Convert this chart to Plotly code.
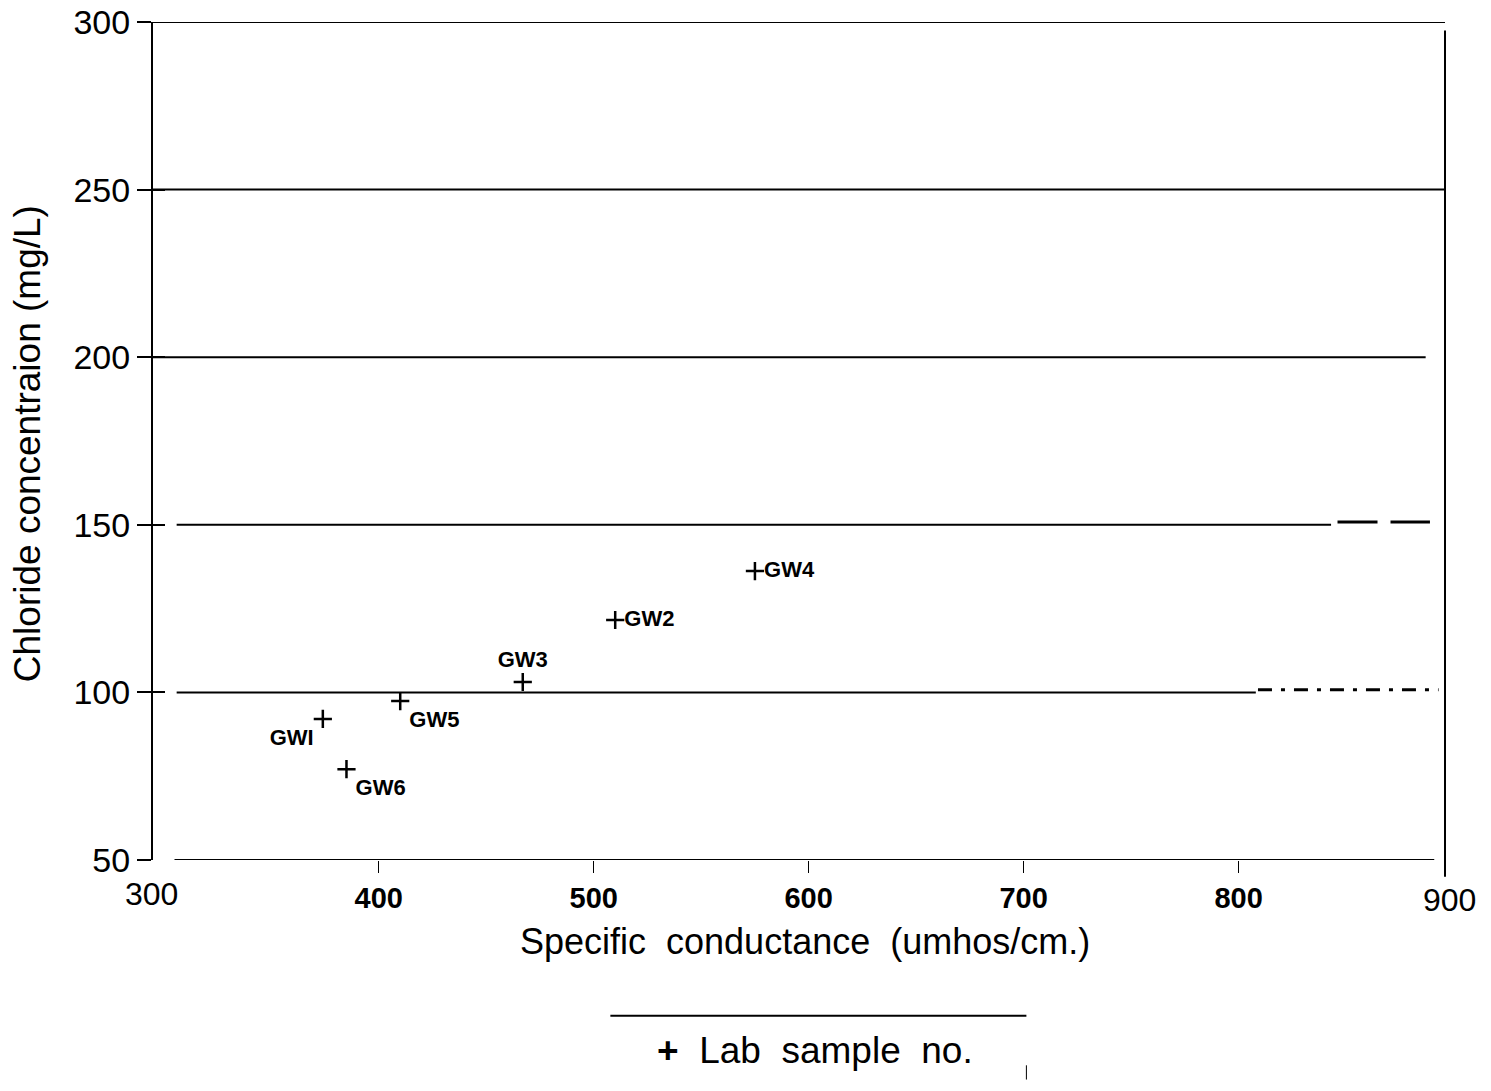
import plotly.graph_objects as go

# ---- data ----
sample_ids = ["GWI", "GW2", "GW3", "GW4", "GW5", "GW6"]
conductance = [374, 510, 467, 575, 410, 385]
chloride = [92.1, 121.6, 103.1, 136.2, 97.4, 77.1]
label_pos = ["bottom left", "middle right", "top center", "middle right", "bottom right", "bottom right"]

y_ticks = [50, 100, 150, 200, 250, 300]
x_ticks = [400, 500, 600, 700, 800]
x_end_labels = [300, 900]

# reference (grid) lines: level, start, end
ref_levels = [300, 250, 200, 150, 100, 50]
ref_start = [289, 295, 295, 306, 306, 305]
ref_end = [896, 896, 887, 843, 808, 891]
# dashed continuations
dash_levels = [150.8, 100.8]
dash_start = [846, 809]
dash_end = [889, 893]
dash_styles = ["40px,13px", "14px,9px,4px,9px"]

X_RANGE = [295, 896]
Y_RANGE = [50, 300]
FONT = "Liberation Sans, Arial, sans-serif"

fig = go.Figure()

for lvl, x0, x1 in zip(ref_levels, ref_start, ref_end):
    fig.add_trace(go.Scatter(x=[x0, x1], y=[lvl, lvl], mode="lines",
                             line=dict(color="black", width=2),
                             hoverinfo="skip", showlegend=False, cliponaxis=False))

for lvl, x0, x1, ds in zip(dash_levels, dash_start, dash_end, dash_styles):
    fig.add_trace(go.Scatter(x=[x0, x1], y=[lvl, lvl], mode="lines",
                             line=dict(color="black", width=3, dash=ds),
                             hoverinfo="skip", showlegend=False))

fig.add_trace(go.Scatter(
    x=conductance, y=chloride, mode="markers+text",
    text=sample_ids, textposition=label_pos,
    textfont=dict(family=FONT, size=22, color="black", weight="bold"),
    marker=dict(symbol="cross-thin", size=13, line=dict(color="black", width=2.5)),
    name="Lab sample no.", showlegend=False))

# invisible trace on an overlay axis, so the y ticks also cross to the inside
fig.add_trace(go.Scatter(x=conductance, y=chloride, yaxis="y2", mode="markers",
                         marker=dict(opacity=0), showlegend=False, hoverinfo="skip"))

# x end labels (300, 900)
for v in x_end_labels:
    px = (v - X_RANGE[0]) / (X_RANGE[1] - X_RANGE[0])
    fig.add_annotation(x=px, y=0, xref="paper", yref="paper", yanchor="top", xanchor="center",
                       yshift=-20 if v == 900 else -14, xshift=-12 if v == 300 else -4,
                       text=str(v), showarrow=False,
                       font=dict(family=FONT, size=32, color="black"))

# right border
fig.add_shape(type="line", xref="paper", yref="paper", x0=1, x1=1, y0=-0.02, y1=0.99,
              line=dict(color="black", width=2))

# axis titles
fig.add_annotation(xref="paper", yref="paper", x=0.505, y=-0.097,
                   text="Specific  conductance  (umhos/cm.)", showarrow=False,
                   font=dict(family=FONT, size=36, color="black"), yanchor="middle")
fig.add_annotation(xref="paper", yref="paper", x=-0.097, y=0.497, textangle=-90,
                   text="Chloride concentraion (mg/L)", showarrow=False,
                   font=dict(family=FONT, size=37, color="black"), xanchor="center")

# legend box
fig.add_shape(type="line", xref="paper", yref="paper", x0=0.354, x1=0.676,
              y0=-0.186, y1=-0.186, line=dict(color="black", width=2))
fig.add_shape(type="line", xref="paper", yref="paper", x0=0.676, x1=0.676,
              y0=-0.245, y1=-0.262, line=dict(color="black", width=1))
fig.add_annotation(xref="paper", yref="paper", x=0.512, y=-0.227,
                   text="<b>+</b>  Lab  sample  no.", showarrow=False,
                   font=dict(family=FONT, size=37, color="black"), yanchor="middle")

fig.update_layout(
    width=1491, height=1091,
    margin=dict(l=153, r=46, t=22, b=231),
    paper_bgcolor="white", plot_bgcolor="white",
    font=dict(family=FONT, color="black"),
    xaxis=dict(range=X_RANGE, tickvals=x_ticks, ticktext=[str(v) for v in x_ticks],
               ticks="outside", ticklen=12, tickwidth=1, tickcolor="black",
               showgrid=False, zeroline=False, showline=False, automargin=False,
               tickfont=dict(family=FONT, size=29, color="black", weight="bold")),
    yaxis=dict(range=Y_RANGE, tickvals=y_ticks,
               ticks="outside", ticklen=14, tickwidth=2, tickcolor="black",
               showgrid=False, zeroline=False, showline=True, linecolor="black", linewidth=2,
               automargin=False,
               tickfont=dict(family=FONT, size=34, color="black")),
    yaxis2=dict(range=Y_RANGE, tickvals=y_ticks, overlaying="y", side="left",
                ticks="inside", ticklen=12, tickwidth=2, tickcolor="black",
                showticklabels=False, showgrid=False, zeroline=False, showline=False,
                automargin=False),
)

fig.write_html("out.html")
